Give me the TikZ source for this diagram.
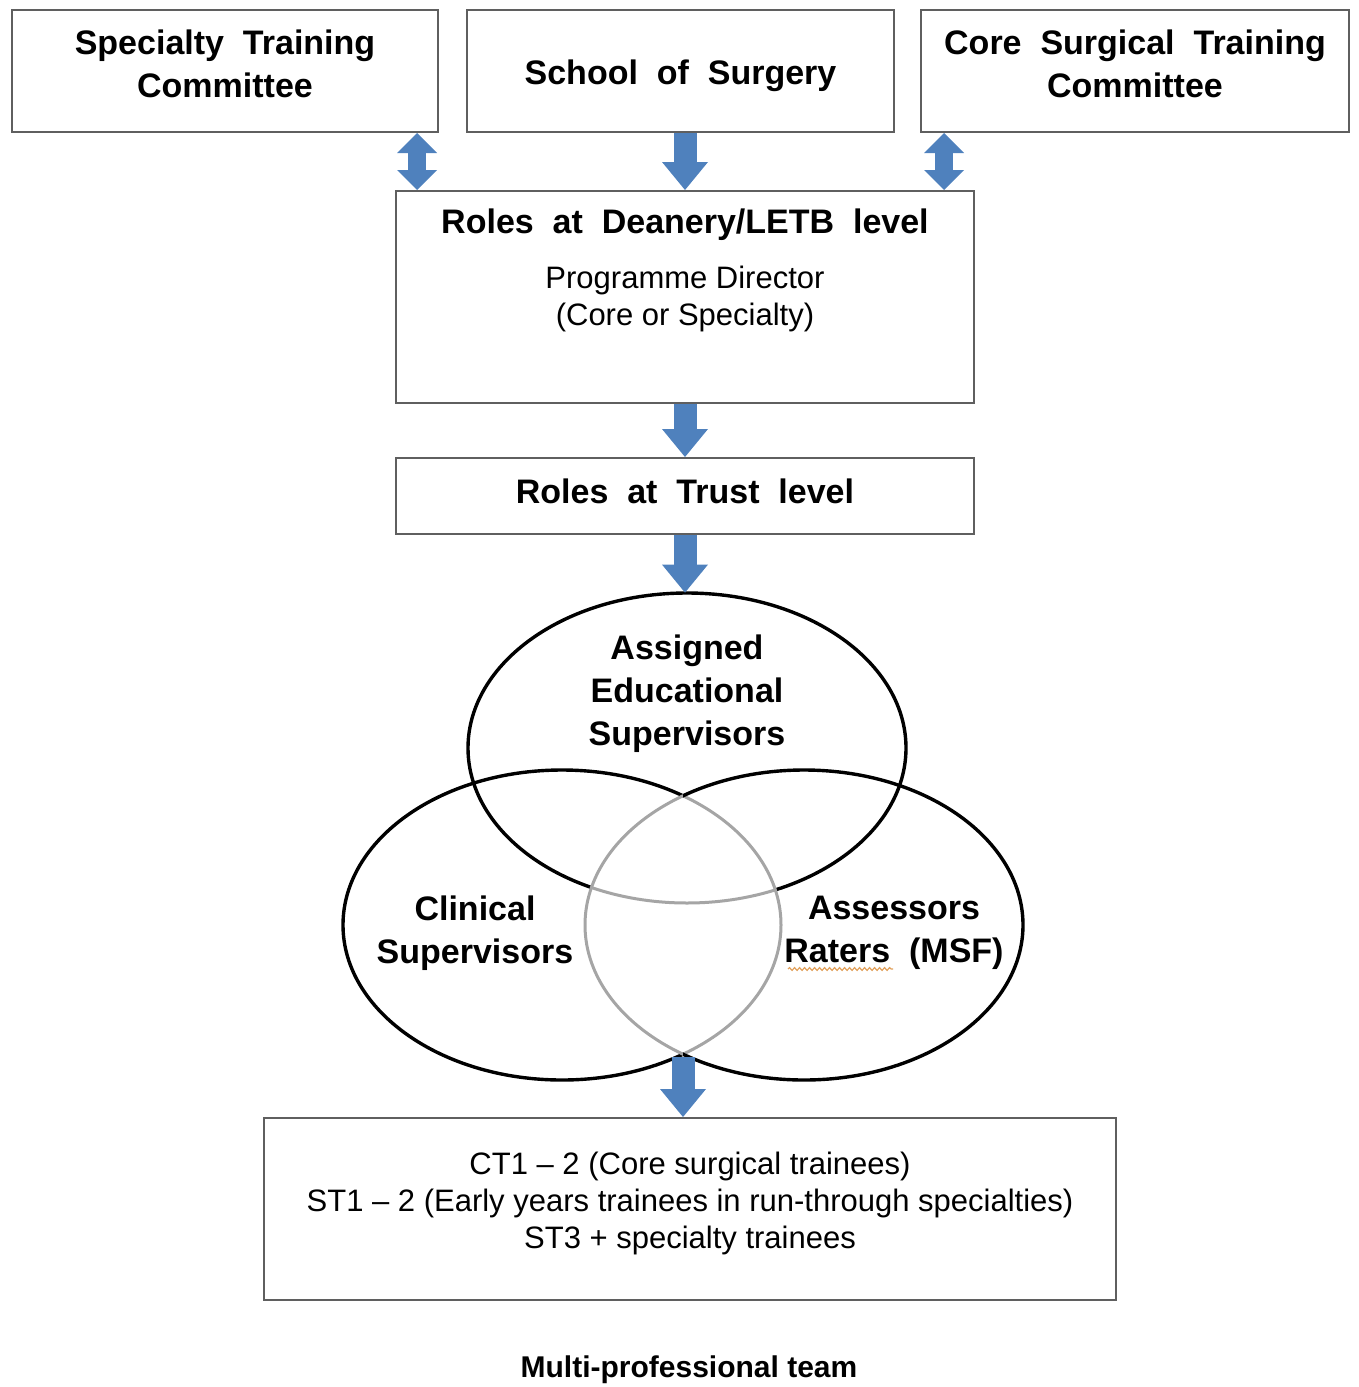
\documentclass[tikz,border=0pt]{standalone}
\usepackage{fontspec}
\setmainfont{Liberation Sans}
\usetikzlibrary{positioning,shapes.geometric,arrows.meta,decorations.pathmorphing}
\definecolor{arrowblue}{RGB}{79,129,189}
\definecolor{boxgray}{RGB}{95,95,95}
\definecolor{lensgray}{RGB}{165,165,165}
\definecolor{spellorange}{RGB}{225,160,90}

\begin{document}
\begin{tikzpicture}[
  x=0.5pt, y=-0.5pt,
  box/.style={draw=boxgray, line width=1pt, inner sep=0pt, align=center},
  headfont/.style={font=\bfseries\fontsize{17}{21.5}\selectfont},
  bodyfont/.style={font=\fontsize{15.5}{18.5}\selectfont},
  vennset/.style={ellipse, minimum width=219pt, minimum height=155pt, inner sep=0pt},
  venntext/.style={headfont, align=center},
  vennline/.style={draw=black, line width=1.7pt},
  lensline/.style={draw=lensgray, line width=1.5pt},
  downarrow/.style={draw=arrowblue, line width=11.5pt,
    -{Triangle[width=23pt,length=14pt,line width=0pt]}},
  botharrow/.style={draw=arrowblue, line width=9pt,
    {Triangle[width=20pt,length=10pt,line width=0pt]}-{Triangle[width=20pt,length=10pt,line width=0pt]}}
]
\useasboundingbox (0,0) rectangle (1359,1387);

% committees and school
\node[box, minimum width=213pt, minimum height=61pt] (stc) at (225,71) {};
\node[box, minimum width=213.5pt, minimum height=61pt] (sos) at (680.5,71) {};
\node[box, minimum width=214pt, minimum height=61pt] (cst) at (1135,71) {};
\node[headfont, align=center] at ([yshift=3.5pt]stc.center) {Specialty\ \ Training\\Committee};
\node[headfont] at ([yshift=-2.5pt]sos.center) {School\ \ of\ \ Surgery};
\node[headfont, align=center] at ([yshift=3.5pt]cst.center) {Core\ \ Surgical\ \ Training\\Committee};

% deanery and trust
\node[box, minimum width=289pt, minimum height=106pt] (den) at (685,297) {};
\node[headfont] (denhead) at (685,225) {Roles\ \ at\ \ Deanery/LETB\ \ level};
\node[bodyfont, align=center] (pd) at (685,299) {Programme Director\\(Core or Specialty)};
\node[box, minimum width=289pt, minimum height=38pt] (trust) at (685,496) {};
\node[headfont] at ([yshift=2.5pt]trust.center) {Roles\ \ at\ \ Trust\ \ level};

% supervisors
\node[vennset] (aes) at (687,748) {};
\node[vennset] (cls) at (562,925) {};
\node[vennset] (asr) at (804,925) {};
\draw[vennline] (aes.center) ellipse [x radius=109.5pt, y radius=77.5pt];
\begin{scope}
  \clip (cls.center) ellipse [x radius=109.5pt, y radius=77.5pt];
  \clip (asr.center) ellipse [x radius=109.5pt, y radius=77.5pt];
  \draw[white, line width=2.8pt] (aes.center) ellipse [x radius=109.5pt, y radius=77.5pt];
  \draw[lensline] (aes.center) ellipse [x radius=109.5pt, y radius=77.5pt];
\end{scope}
\begin{scope}
  \clip (0,0) rectangle (683,1387);
  \draw[vennline] (cls.center) ellipse [x radius=109.5pt, y radius=77.5pt];
  \draw[lensline] (asr.center) ellipse [x radius=109.5pt, y radius=77.5pt];
\end{scope}
\begin{scope}
  \clip (683,0) rectangle (1359,1387);
  \draw[lensline] (cls.center) ellipse [x radius=109.5pt, y radius=77.5pt];
  \draw[vennline] (asr.center) ellipse [x radius=109.5pt, y radius=77.5pt];
\end{scope}
\node[venntext] at ([yshift=27pt]aes.center) {Assigned\\Educational\\Supervisors};
\node[venntext] at ([xshift=-43.5pt,yshift=-4pt]cls.center) {Clinical\\Supervisors};
\node[venntext] (asrtext) at ([xshift=45pt,yshift=-4pt]asr.center) {Assessors\\Raters\ \ (MSF)};
\draw[spellorange, line width=0.6pt, decorate,
  decoration={snake, segment length=2.5pt, amplitude=0.7pt}] (788,969) -- (893,969);

% trainees
\node[box, minimum width=426pt, minimum height=91pt] (trainees) at (690,1209) {};
\node[bodyfont, align=center] at ([yshift=3pt]trainees.center)
  {CT1 – 2 (Core surgical trainees)\\ST1 – 2 (Early years trainees in run-through specialties)\\ST3 + specialty trainees};
\node[font=\bfseries\fontsize{15}{18}\selectfont] (team) at (689,1370) {Multi-professional team};

% block arrows
\coordinate (lensbot) at (683,1057);
\draw[botharrow] ([xshift=-11pt]stc.south east) -- ([xshift=-11pt]stc.south east |- den.north);
\draw[downarrow] (sos.south -| den.north) -- (den.north);
\draw[botharrow] ([xshift=12pt]cst.south west) -- ([xshift=12pt]cst.south west |- den.north);
\draw[downarrow] (den.south) -- (trust.north);
\draw[downarrow] (trust.south) -- (trust.south |- aes.north);
\draw[downarrow] (lensbot) -- (lensbot |- trainees.north);
\end{tikzpicture}
\end{document}
